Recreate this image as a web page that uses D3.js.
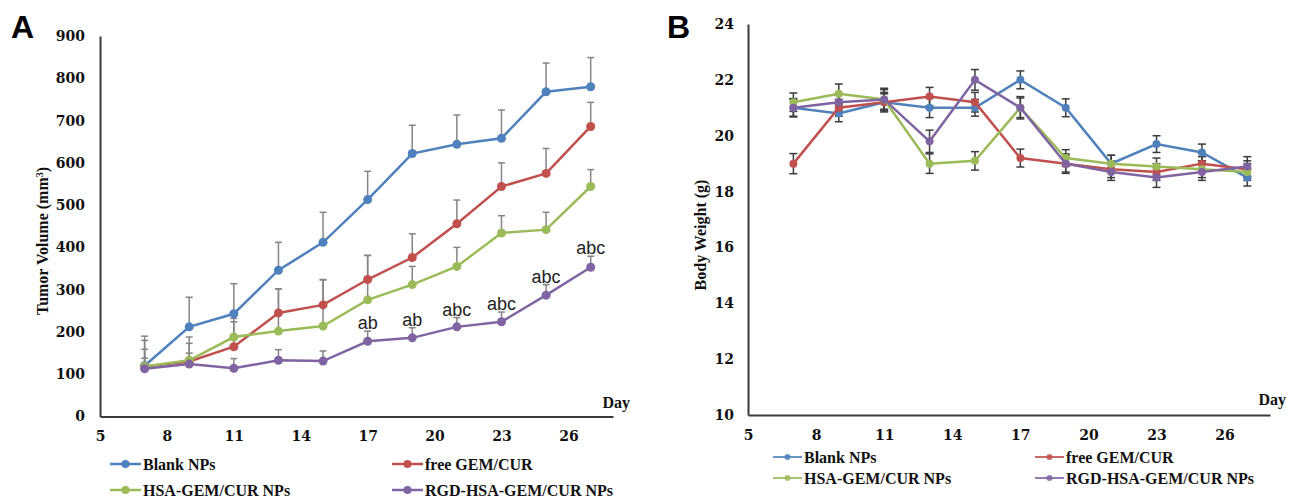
<!DOCTYPE html>
<html>
<head>
<meta charset="utf-8">
<script src="https://cdn.jsdelivr.net/npm/d3@7"></script>
<style>
  body { margin: 0; background: #fff; }
  .tick text { font-family: "DejaVu Serif", serif; font-weight: bold; font-size: 14px; fill: #111; }
  .ttl { font-family: "Liberation Serif", serif; font-weight: bold; font-size: 16px; fill: #111; }
  .panel { font-family: "Liberation Sans", Arial, sans-serif; font-weight: bold; font-size: 32px; fill: #000; }
  .sig { font-family: "Liberation Sans", Arial, sans-serif; font-size: 18px; fill: #222; }
</style>
</head>
<body>
<script>
// shared categories
var days = [7, 9, 11, 13, 15, 17, 19, 21, 23, 25, 27];
var seriesNames = ["Blank NPs", "free GEM/CUR", "HSA-GEM/CUR NPs", "RGD-HSA-GEM/CUR NPs"];
var colors = ["#4F81BD", "#C0504D", "#9BBB59", "#8064A2"];
var xTicks = [5, 8, 11, 14, 17, 20, 23, 26];

// panel A: tumor volume (mm3), upper error only
var volBlank = [120, 212, 243, 346, 412, 513, 622, 644, 658, 768, 780];
var volBlankErr = [70, 70, 71, 66, 71, 67, 67, 69, 67, 68, 69];
var volFree = [118, 130, 165, 245, 264, 324, 376, 456, 544, 575, 686];
var volFreeErr = [41, 43, 59, 57, 60, 57, 56, 56, 56, 59, 57];
var volHsa = [118, 133, 188, 202, 214, 276, 312, 355, 434, 442, 544];
var volHsaErr = [62, 55, 44, 100, 109, 105, 43, 45, 41, 41, 40];
var volRgd = [113, 124, 114, 133, 131, 178, 186, 212, 224, 287, 353];
var volRgdErr = [25, 26, 23, 25, 24, 24, 24, 22, 23, 25, 26];
var sigLabels = ["", "", "", "", "", "ab", "ab", "abc", "abc", "abc", "abc"];
var volTicks = [0, 100, 200, 300, 400, 500, 600, 700, 800, 900];

// panel B: body weight (g), +/- error
var wBlank = [21.0, 20.8, 21.2, 21.0, 21.0, 22.0, 21.0, 19.0, 19.7, 19.4, 18.5];
var wBlankErr = [0.33, 0.3, 0.35, 0.35, 0.3, 0.32, 0.32, 0.3, 0.3, 0.3, 0.3];
var wFree = [19.0, 21.0, 21.2, 21.4, 21.2, 19.2, 19.0, 18.8, 18.7, 19.0, 18.8];
var wFreeErr = [0.36, 0.3, 0.3, 0.33, 0.35, 0.32, 0.3, 0.3, 0.3, 0.25, 0.3];
var wHsa = [21.2, 21.5, 21.3, 19.0, 19.1, 21.0, 19.2, 19.0, 18.9, 18.8, 18.7];
var wHsaErr = [0.33, 0.35, 0.4, 0.35, 0.33, 0.4, 0.3, 0.3, 0.3, 0.3, 0.3];
var wRgd = [21.0, 21.2, 21.3, 19.8, 22.0, 21.0, 19.0, 18.7, 18.5, 18.7, 18.9];
var wRgdErr = [0.3, 0.3, 0.35, 0.4, 0.37, 0.35, 0.35, 0.3, 0.35, 0.3, 0.35];
var wTicks = [10, 12, 14, 16, 18, 20, 22, 24];

var svg = d3.select("body").append("svg")
    .attr("width", 1289)
    .attr("height", 500);

function drawPanel(opt) {
    var x = d3.scaleLinear().domain([5, 28]).range([opt.left, opt.right]);
    var y = d3.scaleLinear().domain(opt.yDomain).range([opt.bottom, opt.top]);
    var g = svg.append("g");

    var xa = g.append("g")
        .attr("transform", "translate(0," + opt.bottom + ")")
        .call(d3.axisBottom(x).tickValues(xTicks).tickSize(0).tickPadding(15));
    var ya = g.append("g")
        .attr("transform", "translate(" + opt.left + ",0)")
        .call(d3.axisLeft(y).tickValues(opt.yTicks).tickSize(0).tickPadding(opt.yPad));
    [xa, ya].forEach(function (a) {
        a.select(".domain").attr("stroke", "#3a3a3a").attr("stroke-width", 2);
    });

    var line = d3.line()
        .x(function (d, i) { return x(days[i]); })
        .y(function (d) { return y(d); });

    opt.series.forEach(function (s, k) {
        // error bars
        var eb = g.append("g").attr("stroke", opt.errColor).attr("stroke-width", 1.5);
        s.values.forEach(function (v, i) {
            var cx = x(days[i]);
            var hi = y(v + s.err[i]);
            var lo = opt.both ? y(v - s.err[i]) : y(v);
            eb.append("line").attr("x1", cx).attr("x2", cx).attr("y1", hi).attr("y2", lo);
            eb.append("line").attr("x1", cx - opt.cap).attr("x2", cx + opt.cap).attr("y1", hi).attr("y2", hi);
            if (opt.both) {
                eb.append("line").attr("x1", cx - opt.cap).attr("x2", cx + opt.cap).attr("y1", lo).attr("y2", lo);
            }
        });
    });

    opt.series.forEach(function (s, k) {
        g.append("path")
            .attr("d", line(s.values))
            .attr("fill", "none")
            .attr("stroke", colors[k])
            .attr("stroke-width", 2.5);
        g.selectAll(null).data(s.values).enter().append("circle")
            .attr("cx", function (d, i) { return x(days[i]); })
            .attr("cy", function (d) { return y(d); })
            .attr("r", opt.r)
            .attr("fill", colors[k]);
    });

    // axis title
    var t = g.append("text")
        .attr("class", "ttl")
        .attr("text-anchor", "middle")
        .attr("transform", "translate(" + opt.titleX + "," + opt.titleY + ") rotate(-90)")
        .attr("dy", "0.35em")
        .text(opt.title);
    if (opt.sup) {
        t.append("tspan").attr("baseline-shift", "super").attr("font-size", "10px").text(opt.sup);
        t.append("tspan").text(")");
    }

    g.append("text")
        .attr("class", "ttl")
        .attr("text-anchor", "end")
        .attr("x", opt.dayX)
        .attr("y", opt.dayY)
        .text("Day");

    g.append("text")
        .attr("class", "panel")
        .attr("x", opt.letterX)
        .attr("y", 38)
        .text(opt.letter);

    // legend
    opt.legend.forEach(function (p, k) {
        var lg = g.append("g").attr("transform", "translate(" + p[0] + "," + p[1] + ")");
        lg.append("line").attr("x1", 0).attr("x2", opt.legLen).attr("y1", 0).attr("y2", 0)
            .attr("stroke", colors[k]).attr("stroke-width", opt.legW).attr("stroke-opacity", opt.legOp);
        lg.append("circle").attr("cx", opt.legLen / 2).attr("cy", 0).attr("r", opt.legR)
            .attr("fill", colors[k]).attr("fill-opacity", opt.legOp);
        lg.append("text").attr("class", "ttl").attr("x", opt.legLen + 2).attr("dy", "0.35em")
            .text(seriesNames[k]);
    });

    return { x: x, y: y, g: g };
}

var A = drawPanel({
    left: 100, right: 613, top: 36, bottom: 416.5,
    yDomain: [0, 900], yTicks: volTicks, yPad: 15,
    both: false, cap: 3.5, errColor: "#858585", r: 4.5,
    series: [
        { values: volBlank, err: volBlankErr },
        { values: volFree, err: volFreeErr },
        { values: volHsa, err: volHsaErr },
        { values: volRgd, err: volRgdErr }
    ],
    title: "Tumor Volume (mm", sup: "3", titleX: 42, titleY: 241,
    dayX: 630, dayY: 408, letter: "A", letterX: 11,
    legend: [[110, 464], [392, 464], [110, 490], [392, 490]],
    legLen: 31, legW: 2.5, legR: 4, legOp: 1
});

// significance marks above RGD error bars
A.g.selectAll(null).data(volRgd).enter().append("text")
    .attr("class", "sig")
    .attr("text-anchor", "middle")
    .attr("x", function (d, i) { return A.x(days[i]); })
    .attr("y", function (d, i) { return A.y(d + volRgdErr[i]) - 2; })
    .text(function (d, i) { return sigLabels[i]; });

drawPanel({
    left: 748, right: 1270, top: 24, bottom: 415,
    yDomain: [10, 24], yTicks: wTicks, yPad: 14,
    both: true, cap: 4, errColor: "#3c3c3c", r: 4,
    series: [
        { values: wBlank, err: wBlankErr },
        { values: wFree, err: wFreeErr },
        { values: wHsa, err: wHsaErr },
        { values: wRgd, err: wRgdErr }
    ],
    title: "Body Weight (g)", titleX: 700, titleY: 235,
    dayX: 1286, dayY: 405, letter: "B", letterX: 667,
    legend: [[773, 457], [1035, 457], [773, 478], [1035, 478]],
    legLen: 29, legW: 2, legR: 3, legOp: 0.85
});
</script>
</body>
</html>
